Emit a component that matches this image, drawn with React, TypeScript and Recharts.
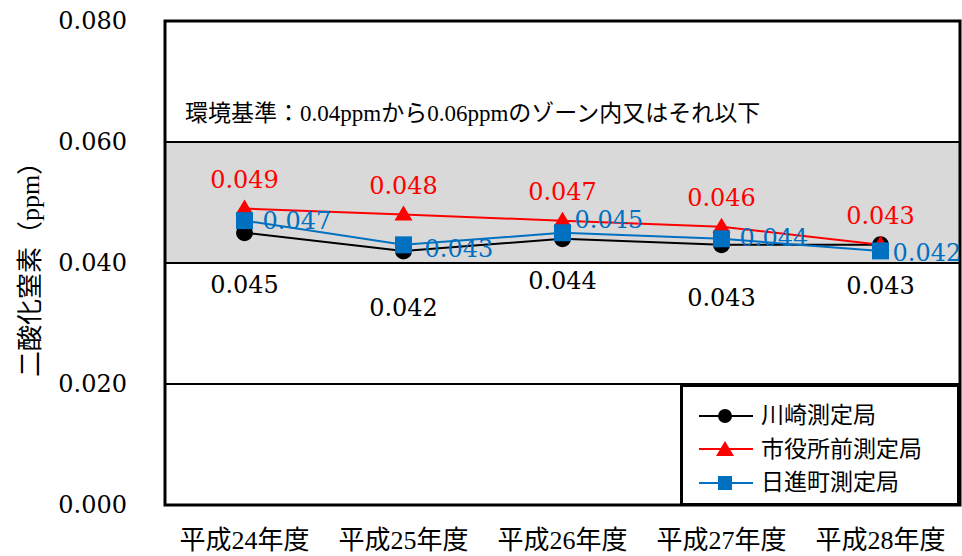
import React from 'react';
import { LineChart, Line, XAxis, YAxis, ReferenceArea, ReferenceLine, Legend, LabelList, Label } from 'recharts';

const categories = ['平成24年度', '平成25年度', '平成26年度', '平成27年度', '平成28年度'];
const kawasaki = [0.045, 0.042, 0.044, 0.043, 0.043];
const shiyakusho = [0.049, 0.048, 0.047, 0.046, 0.043];
const nisshin = [0.047, 0.043, 0.045, 0.044, 0.042];
const yTicks = [0, 0.02, 0.04, 0.06, 0.08];
const xTicks = [0, 1, 2, 3, 4];
const seriesNames = ['川崎測定局', '市役所前測定局', '日進町測定局'];
const standardText = '環境基準：0.04ppmから0.06ppmのゾーン内又はそれ以下';
const yTitle = '二酸化窒素（ppm）';

// label placement offsets (as in the original, labels were hand-placed)
const kawasakiLabelDy = [52, 57, 42, 53, 41];
const nisshinLabelDx = [18, 21, 12, 18, 12];
const nisshinLabelDy = [0, 4, -13, -1, 2];

const COLORS = ['#000000', '#FF0000', '#0070C0'];
const FONT = "Liberation Serif, Noto Sans CJK JP, serif";
const NUMFONT = "DejaVu Serif";
const NUMSIZE = 24;

const data = categories.map((c, i) => ({
  idx: i,
  name: c,
  k: kawasaki[i],
  s: shiyakusho[i],
  n: nisshin[i],
}));

const CircleDot = (p: any) => <circle key={`c${p.index}`} cx={p.cx} cy={p.cy} r={8.5} fill="#000" />;
const TriDot = (p: any) => (
  <polygon
    key={`t${p.index}`}
    points={`${p.cx},${p.cy - 9} ${p.cx - 9},${p.cy + 6} ${p.cx + 9},${p.cy + 6}`}
    fill="#FF0000"
  />
);
const SquareDot = (p: any) => (
  <rect key={`s${p.index}`} x={p.cx - 8.5} y={p.cy - 8.5} width={17} height={17} fill="#0070C0" />
);

const fmt = (v: number) => v.toFixed(3);

const kLabel = (p: any) => (
  <text x={p.x} y={p.y + kawasakiLabelDy[p.index]} textAnchor="middle" dominantBaseline="central"
    fontFamily={NUMFONT} fontSize={NUMSIZE} fill="#000">{fmt(p.value)}</text>
);
const sLabel = (p: any) => (
  <text x={p.x} y={p.y - 29} textAnchor="middle" dominantBaseline="central"
    fontFamily={NUMFONT} fontSize={NUMSIZE} fill="#FF0000">{fmt(p.value)}</text>
);
const nLabel = (p: any) => (
  <text x={p.x + nisshinLabelDx[p.index]} y={p.y + nisshinLabelDy[p.index]} textAnchor="start"
    dominantBaseline="central" fontFamily={NUMFONT} fontSize={NUMSIZE} fill="#0070C0">{fmt(p.value)}</text>
);

const markerFor = (i: number) => {
  if (i === 0) return <circle cx={26} cy={9} r={7} fill="#000" />;
  if (i === 1) return <polygon points="26,1 17,16 35,16" fill="#FF0000" />;
  return <rect x={19} y={2} width={14} height={14} fill="#0070C0" />;
};

const renderLegend = (props: any) => {
  const payload = props.payload || [];
  return (
    <div style={{
      width: 280, height: 122, border: '3px solid #000', background: '#fff',
      boxSizing: 'border-box', paddingTop: 12,
    }}>
      {payload.map((entry: any, i: number) => (
        <div key={i} style={{ display: 'flex', alignItems: 'center', height: 33.5 }}>
          <svg width={54} height={18} style={{ marginLeft: 16 }}>
            <line x1={0} y1={9} x2={54} y2={9} stroke={COLORS[i]} strokeWidth={2} />
            {markerFor(i)}
          </svg>
          <span style={{ marginLeft: 8, fontFamily: FONT, fontSize: 23, color: '#000', lineHeight: 1 }}>
            {seriesNames[i]}
          </span>
        </div>
      ))}
    </div>
  );
};

const YTick = (p: any) => (
  <text x={p.x} y={p.y} textAnchor="end" dominantBaseline="central" fontFamily={NUMFONT}
    fontSize={NUMSIZE} fill="#000">{fmt(p.payload.value)}</text>
);

const XTick = (p: any) => (
  <text x={p.x} y={p.y} textAnchor="middle" dominantBaseline="central" fontFamily={FONT}
    fontSize={26} fill="#000">{categories[p.payload.value]}</text>
);

export default function App() {
  return (
    <div style={{ position: 'absolute', left: 0, top: 0, width: 962, height: 556, background: '#fff' }}>
      <LineChart width={962} height={556} data={data} margin={{ top: 21, right: 2, left: 0, bottom: 11 }}>
        <XAxis
          dataKey="idx"
          type="number"
          domain={[-0.5, 4.5]}
          ticks={xTicks}
          height={40}
          tickLine={false}
          axisLine={false}
          tickSize={0}
          tickMargin={35}
          tick={XTick}
          interval={0}
        />
        <YAxis
          width={165}
          domain={[0, 0.08]}
          ticks={yTicks}
          tickLine={false}
          axisLine={false}
          tickSize={0}
          tickMargin={38}
          tick={YTick}
        >
          <Label
            content={(lp: any) => {
              const vb = lp.viewBox || { x: 0, y: 21, width: 165, height: 484 };
              const cy = vb.y + vb.height / 2;
              return (
                <text x={30} y={cy} transform={`rotate(-90, 30, ${cy})`} textAnchor="middle"
                  dominantBaseline="central" fontFamily={FONT} fontSize={26} fill="#000">{yTitle}</text>
              );
            }}
          />
        </YAxis>
        <ReferenceArea y1={0.04} y2={0.06} fill="#d9d9d9" fillOpacity={1} stroke="none" />
        <ReferenceLine y={0.02} stroke="#000" strokeWidth={2} />
        <ReferenceLine y={0.04} stroke="#000" strokeWidth={2} />
        <ReferenceLine
          y={0.06}
          stroke="#000"
          strokeWidth={2}
          label={(lp: any) => {
            const vb = lp.viewBox || { x: 165, y: 142 };
            return (
              <text x={vb.x + 20} y={vb.y - 29} textAnchor="start" dominantBaseline="central"
                fontFamily={FONT} fontSize={23} fill="#000">{standardText}</text>
            );
          }}
        />
        <ReferenceArea y1={0} y2={0.08} fill="none" stroke="#000" strokeWidth={3} />
        <Legend
          layout="vertical"
          align="center"
          verticalAlign="middle"
          content={renderLegend}
          wrapperStyle={{ position: 'absolute', left: 680, top: 384, width: 280, height: 122 }}
        />
        <Line name={seriesNames[0]} dataKey="k" stroke={COLORS[0]} strokeWidth={2} dot={CircleDot}
          activeDot={false} isAnimationActive={false}>
          <LabelList dataKey="k" content={kLabel} />
        </Line>
        <Line name={seriesNames[1]} dataKey="s" stroke={COLORS[1]} strokeWidth={2} dot={TriDot}
          activeDot={false} isAnimationActive={false}>
          <LabelList dataKey="s" content={sLabel} />
        </Line>
        <Line name={seriesNames[2]} dataKey="n" stroke={COLORS[2]} strokeWidth={2} dot={SquareDot}
          activeDot={false} isAnimationActive={false}>
          <LabelList dataKey="n" content={nLabel} />
        </Line>
      </LineChart>
    </div>
  );
}
